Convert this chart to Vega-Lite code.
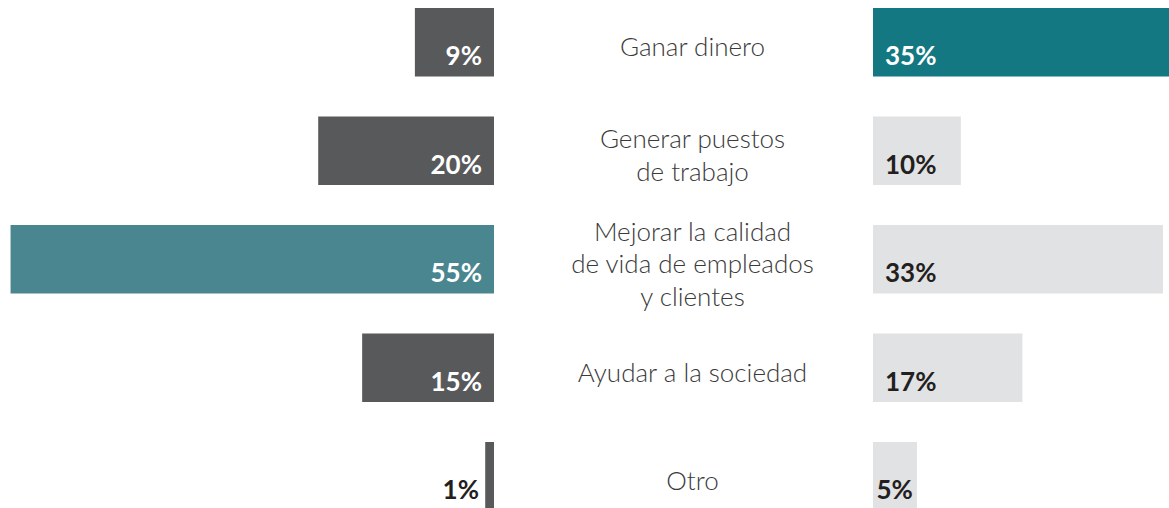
{
  "$schema": "https://vega.github.io/schema/vega-lite/v6.json",
  "padding": 0,
  "spacing": 0,
  "bounds": "flush",
  "config": {"view": {"stroke": null}, "font": "Lato"},
  "data": {
    "values": [
      {"cat": "Ganar dinero", "label": "Ganar dinero", "left": 0.09, "right": 0.35},
      {"cat": "Generar puestos de trabajo", "label": "Generar puestos\nde trabajo", "left": 0.20, "right": 0.10},
      {"cat": "Mejorar la calidad de vida de empleados y clientes", "label": "Mejorar la calidad\nde vida de empleados\ny clientes", "left": 0.55, "right": 0.33},
      {"cat": "Ayudar a la sociedad", "label": "Ayudar a la sociedad", "left": 0.15, "right": 0.17},
      {"cat": "Otro", "label": "Otro", "left": 0.01, "right": 0.05}
    ]
  },
  "transform": [
    {"joinaggregate": [
      {"op": "max", "field": "left", "as": "maxLeft"},
      {"op": "max", "field": "right", "as": "maxRight"}
    ]}
  ],
  "hconcat": [
    {
      "width": 494,
      "height": 518.5,
      "encoding": {
        "y": {"field": "cat", "type": "nominal", "sort": null, "axis": null,
              "scale": {"type": "band", "paddingInner": 0.3687, "paddingOuter": 0.0737}}
      },
      "layer": [
        {
          "mark": {"type": "bar"},
          "encoding": {
            "x": {"field": "left", "type": "quantitative", "axis": null,
                  "scale": {"domain": [0, 0.562], "reverse": true, "nice": false}},
            "color": {"condition": {"test": "datum.left == datum.maxLeft", "value": "#4a868f"}, "value": "#58595b"}
          }
        },
        {
          "transform": [{"filter": "datum.left >= 0.03"}],
          "mark": {"type": "text", "align": "right", "baseline": "alphabetic", "dx": -12, "dy": 23,
                   "fontSize": 26, "fontWeight": "bold", "color": "#ffffff"},
          "encoding": {
            "x": {"datum": 0, "type": "quantitative"},
            "text": {"field": "left", "type": "quantitative", "format": ".0%"}
          }
        },
        {
          "transform": [{"filter": "datum.left < 0.03"}],
          "mark": {"type": "text", "align": "right", "baseline": "alphabetic", "dx": -15, "dy": 23,
                   "fontSize": 26, "fontWeight": "bold", "color": "#231f20"},
          "encoding": {
            "x": {"datum": 0, "type": "quantitative"},
            "text": {"field": "left", "type": "quantitative", "format": ".0%"}
          }
        }
      ]
    },
    {
      "width": 379,
      "height": 518.5,
      "mark": {"type": "text", "align": "center", "baseline": "middle", "dx": 9,
               "dy": {"expr": "6 - (length(split(datum.label, '\\n')) - 1) * 16.25"},
               "lineBreak": "\n", "lineHeight": 32.5, "fontSize": 26, "fontWeight": 300,
               "font": "Lato Light, Lato", "color": "#3a3a3a"},
      "encoding": {
        "y": {"field": "cat", "type": "nominal", "sort": null, "axis": null,
              "scale": {"type": "band", "paddingInner": 0.3687, "paddingOuter": 0.0737}},
        "text": {"field": "label", "type": "nominal"}
      }
    },
    {
      "width": 296,
      "height": 518.5,
      "encoding": {
        "y": {"field": "cat", "type": "nominal", "sort": null, "axis": null,
              "scale": {"type": "band", "paddingInner": 0.3687, "paddingOuter": 0.0737}}
      },
      "layer": [
        {
          "mark": {"type": "bar", "clip": true},
          "encoding": {
            "x": {"field": "right", "type": "quantitative", "axis": null,
                  "scale": {"domain": [0, 0.3368], "nice": false}},
            "color": {"condition": {"test": "datum.right == datum.maxRight", "value": "#137882"}, "value": "#e1e2e4"}
          }
        },
        {
          "transform": [{"filter": "datum.right >= 0.08"}],
          "mark": {"type": "text", "align": "left", "baseline": "alphabetic", "dx": 12, "dy": 23,
                   "fontSize": 26, "fontWeight": "bold"},
          "encoding": {
            "x": {"datum": 0, "type": "quantitative"},
            "text": {"field": "right", "type": "quantitative", "format": ".0%"},
            "color": {"condition": {"test": "datum.right == datum.maxRight", "value": "#ffffff"}, "value": "#231f20"}
          }
        },
        {
          "transform": [{"filter": "datum.right < 0.08"}],
          "mark": {"type": "text", "align": "left", "baseline": "alphabetic", "dx": 3.5, "dy": 23,
                   "fontSize": 26, "fontWeight": "bold", "color": "#231f20"},
          "encoding": {
            "x": {"datum": 0, "type": "quantitative"},
            "text": {"field": "right", "type": "quantitative", "format": ".0%"}
          }
        }
      ]
    }
  ]
}
